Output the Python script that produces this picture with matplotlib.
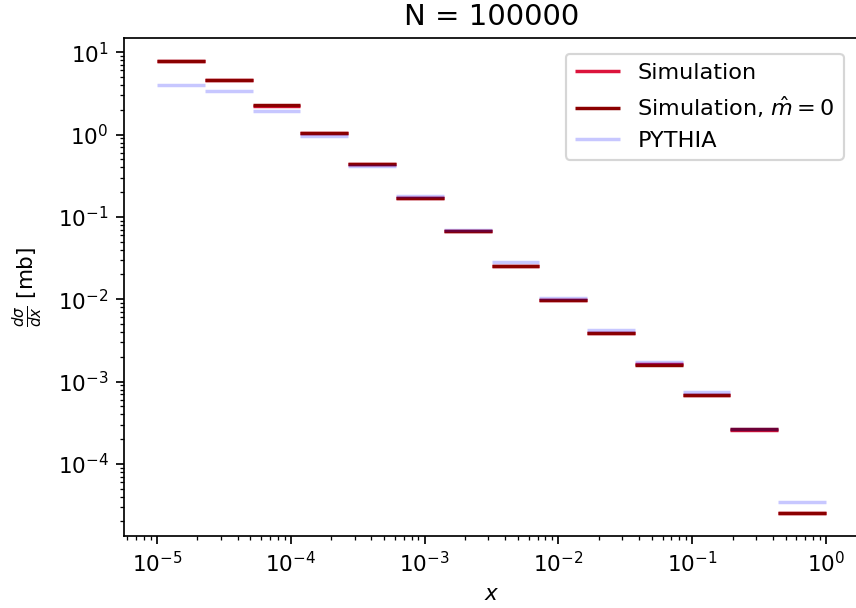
import numpy as np
import matplotlib
matplotlib.use("Agg")
import matplotlib.pyplot as plt

# 14 log-spaced bins from 1e-5 to 1
bin_edges = np.logspace(-5, 0, 15)

sim = [7.9, 4.6, 2.25, 1.03, 0.440, 0.168, 0.0665, 0.0254, 0.0098, 0.00389, 0.00162, 0.000695, 0.000260, 2.56e-5]
sim_m0 = [7.88, 4.63, 2.27, 1.04, 0.444, 0.168, 0.0665, 0.0253, 0.0098, 0.00387, 0.00161, 0.000693, 0.000262, 2.54e-5]
pythia = [3.95, 3.4, 1.93, 0.96, 0.42, 0.181, 0.0699, 0.0280, 0.0102, 0.00421, 0.00173, 0.000741, 0.000265, 3.45e-5]

dpi = 155
fig = plt.figure(figsize=(856 / dpi, 608 / dpi), dpi=dpi)
ax = fig.add_axes([123.5 / 856, 72.5 / 608, 736 / 856, 497.5 / 608])

lo = bin_edges[:-1]
hi = bin_edges[1:]
ax.hlines(sim, lo, hi, colors="crimson", linewidth=1.6, label="Simulation")
ax.hlines(sim_m0, lo, hi, colors="darkred", linewidth=1.6, label=r"Simulation, $\hat{m} = 0$")
ax.hlines(pythia, lo, hi, colors="blue", alpha=0.22, linewidth=1.6, label="PYTHIA")

ax.set_xscale("log")
ax.set_yscale("log")
ax.spines["right"].set_visible(False)
ax.set_xlabel(r"$x$")
ax.set_ylabel(r"$\frac{d\sigma}{dx}$ [mb]", labelpad=6)
ax.set_title("N = 100000", fontsize=13.5)
ax.legend(loc="upper right", fontsize=10.4, borderaxespad=0.7)

fig.savefig("out.png", dpi=dpi)
